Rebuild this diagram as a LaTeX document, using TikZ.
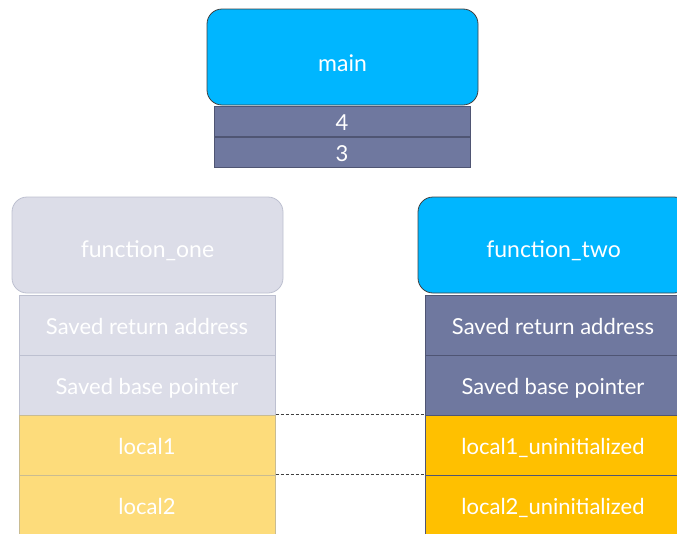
\documentclass[tikz,border=0pt]{standalone}
\usepackage{fontspec}
\setmainfont{Lato}
\definecolor{callblue}{HTML}{00B6FF}
\definecolor{slate}{HTML}{6F789F}
\definecolor{slateedge}{HTML}{4F5573}
\definecolor{paleslate}{HTML}{DCDDE8}
\definecolor{paleedge}{HTML}{BDC0D0}
\definecolor{paleyellow}{HTML}{FDDC7B}
\definecolor{paleyedge}{HTML}{C9BC92}
\definecolor{gold}{HTML}{FFC000}
% titles and cell texts sit on a fixed baseline a little below the middle of their box
\newcommand{\lowered}[2]{\raisebox{-#1}[0pt][0pt]{#2}}
\begin{document}
\begin{tikzpicture}[x=1pt,y=-1pt,
  frame/.style={rounded corners=15pt, line width=0.8pt, minimum width=271pt, minimum height=96pt,
    inner sep=0pt, text=white, font=\fontsize{23}{26}\selectfont},
  cell/.style={rectangle, line width=1pt, minimum width=256pt, inner sep=0pt,
    text=white, font=\fontsize{22}{25}\selectfont},
  arg/.style={cell, fill=slate, draw=slateedge, minimum height=30pt},
  row/.style={cell, minimum height=60pt},
  link/.style={densely dashed, line width=0.7pt, black!75}]
\useasboundingbox (0,0) rectangle (677,533);
\clip (0,0) rectangle (677,533);
% caller frame and its two arguments
\node[frame, fill=callblue, draw=black!75] (main) at (342.5,57) {\lowered{14pt}{main}};
\node[arg] (four) at (342,121.5) {\lowered{9pt}{4}};
\node[arg] (three) at (342,152) {\lowered{9pt}{3}};
% inactive frame on the left
\node[frame, fill=paleslate, draw=paleedge] (fone) at (147.5,245) {\lowered{12pt}{function\_one}};
\node[row, fill=paleslate, draw=paleedge] (ra1) at (147,325) {\lowered{9pt}{Saved return address}};
\node[row, fill=paleslate, draw=paleedge] (bp1) at (147,385) {\lowered{9pt}{Saved base pointer}};
\node[row, fill=paleyellow, draw=paleyedge] (la1) at (147,445) {\lowered{9pt}{local1}};
\node[row, fill=paleyellow, draw=paleyedge] (lb1) at (147,505) {\lowered{9pt}{local2}};
% active frame on the right
\node[frame, fill=callblue, draw=black!75] (ftwo) at (553.5,245) {\lowered{12pt}{function\_two}};
\node[row, fill=slate, draw=slateedge] (ra2) at (553,325) {\lowered{9pt}{Saved return address}};
\node[row, fill=slate, draw=slateedge] (bp2) at (553,385) {\lowered{9pt}{Saved base pointer}};
\node[row, fill=gold, draw=slateedge] (la2) at (553,445) {\lowered{9pt}{local1\_uninitialized}};
\node[row, fill=gold, draw=slateedge] (lb2) at (553,505) {\lowered{9pt}{local2\_uninitialized}};
% slots reused by the second call
\draw[link] (la1.north east) -- (la2.north west);
\draw[link] (lb1.north east) -- (lb2.north west);
\end{tikzpicture}
\end{document}
